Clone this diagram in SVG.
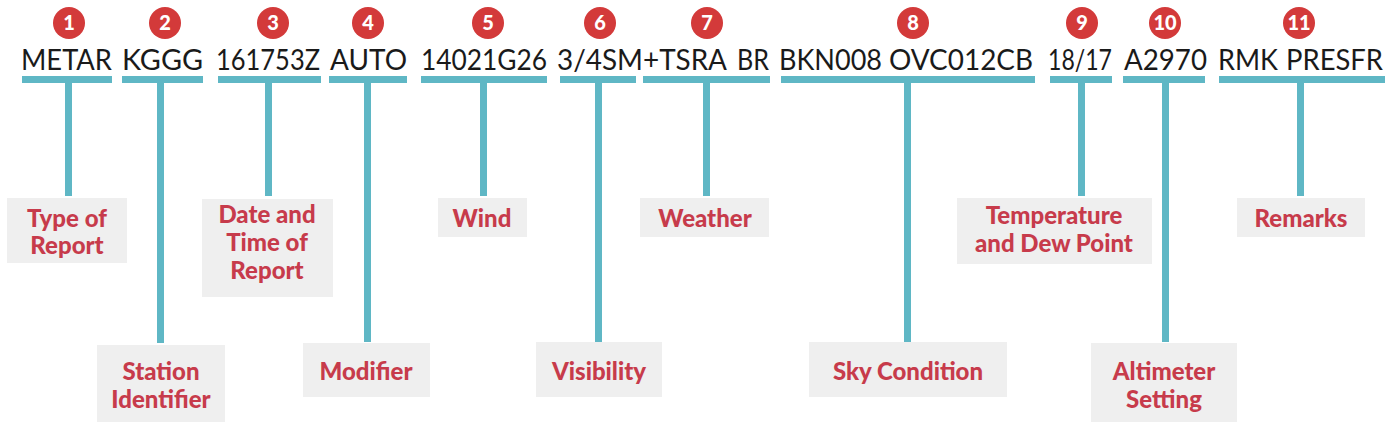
<svg xmlns="http://www.w3.org/2000/svg" width="1392" height="430" viewBox="0 0 1392 430">
<style>
.num{fill:#d33a3a}
.nt{font-family:Lato,"Liberation Sans",sans-serif;font-weight:900;font-size:20px;fill:#fff;text-anchor:middle}
.tok{font-family:Lato,"Liberation Sans",sans-serif;font-weight:400;font-size:28px;fill:#1a1a1a}
.box{fill:#efefef}
.lb{font-family:Lato,"Liberation Sans",sans-serif;font-weight:900;font-size:24px;fill:#c73b4b;text-anchor:middle}
.c{fill:#5fb7c5}
</style>
<rect width="1392" height="430" fill="#fff"/>
<g id="connectors">
<rect class="c" x="22" y="76" width="90" height="7"/><rect class="c" x="65" y="76" width="7" height="120"/>
<rect class="c" x="122" y="76" width="81" height="7"/><rect class="c" x="157" y="76" width="7" height="267"/>
<rect class="c" x="218" y="76" width="103" height="7"/><rect class="c" x="265" y="76" width="7" height="120"/>
<rect class="c" x="329" y="76" width="78" height="7"/><rect class="c" x="364" y="76" width="7" height="266"/>
<rect class="c" x="421" y="76" width="126" height="7"/><rect class="c" x="480" y="76" width="7" height="120"/>
<rect class="c" x="560" y="76" width="76" height="7"/><rect class="c" x="595" y="76" width="7" height="266"/>
<rect class="c" x="643" y="76" width="127" height="7"/><rect class="c" x="703" y="76" width="7" height="120"/>
<rect class="c" x="781" y="76" width="254" height="7"/><rect class="c" x="904" y="76" width="7" height="266"/>
<rect class="c" x="1050" y="76" width="62" height="7"/><rect class="c" x="1078" y="76" width="7" height="120"/>
<rect class="c" x="1123" y="76" width="82" height="7"/><rect class="c" x="1162" y="76" width="7" height="266"/>
<rect class="c" x="1219" y="76" width="166" height="7"/><rect class="c" x="1297" y="76" width="7" height="120"/>
</g>
<g id="field-1"><circle class="num" cx="69" cy="23" r="16"/><text class="nt" x="69" y="30">1</text>
<text class="tok" x="21" y="70" textLength="91" lengthAdjust="spacingAndGlyphs">METAR</text>
<rect class="box" x="7" y="198" width="120" height="65"/><text class="lb" x="67" y="227">Type of</text><text class="lb" x="67" y="254">Report</text></g>
<g id="field-2"><circle class="num" cx="165" cy="23" r="16"/><text class="nt" x="165" y="30">2</text>
<text class="tok" x="122" y="70" textLength="81" lengthAdjust="spacingAndGlyphs">KGGG</text>
<rect class="box" x="97" y="345" width="128" height="77"/><text class="lb" x="161" y="380">Station</text><text class="lb" x="161" y="408">Identifier</text></g>
<g id="field-3"><circle class="num" cx="273" cy="23" r="16"/><text class="nt" x="273" y="30">3</text>
<text class="tok" x="216" y="70" textLength="104" lengthAdjust="spacingAndGlyphs">161753Z</text>
<rect class="box" x="202" y="199" width="131" height="98"/><text class="lb" x="267" y="223">Date and</text><text class="lb" x="267" y="251">Time of</text><text class="lb" x="267" y="279">Report</text></g>
<g id="field-4"><circle class="num" cx="368" cy="23" r="16"/><text class="nt" x="368" y="30">4</text>
<text class="tok" x="330" y="70" textLength="77" lengthAdjust="spacingAndGlyphs">AUTO</text>
<rect class="box" x="303" y="343" width="127" height="54"/><text class="lb" x="366" y="380">Modifier</text></g>
<g id="field-5"><circle class="num" cx="488" cy="23" r="16"/><text class="nt" x="488" y="30">5</text>
<text class="tok" x="421" y="70" textLength="126" lengthAdjust="spacingAndGlyphs">14021G26</text>
<rect class="box" x="438" y="198" width="89" height="39"/><text class="lb" x="482" y="227">Wind</text></g>
<g id="field-6"><circle class="num" cx="600" cy="23" r="16"/><text class="nt" x="600" y="30">6</text>
<text class="tok" x="557" y="70" textLength="170" lengthAdjust="spacingAndGlyphs">3/4SM+TSRA</text>
<rect class="box" x="536" y="342" width="126" height="55"/><text class="lb" x="599" y="380">Visibility</text></g>
<g id="field-7"><circle class="num" cx="707" cy="23" r="16"/><text class="nt" x="707" y="30">7</text>
<text class="tok" x="737" y="70" textLength="32" lengthAdjust="spacingAndGlyphs">BR</text>
<rect class="box" x="640" y="198" width="129" height="39"/><text class="lb" x="705" y="227">Weather</text></g>
<g id="field-8"><circle class="num" cx="913" cy="23" r="16"/><text class="nt" x="913" y="30">8</text>
<text class="tok" x="779" y="70" textLength="103" lengthAdjust="spacingAndGlyphs">BKN008</text>
<text class="tok" x="889" y="70" textLength="144" lengthAdjust="spacingAndGlyphs">OVC012CB</text>
<rect class="box" x="809" y="342" width="198" height="55"/><text class="lb" x="908" y="380">Sky Condition</text></g>
<g id="field-9"><circle class="num" cx="1082" cy="23" r="16"/><text class="nt" x="1082" y="30">9</text>
<text class="tok" x="1048" y="70" textLength="64" lengthAdjust="spacingAndGlyphs">18/17</text>
<rect class="box" x="957" y="198" width="195" height="66"/><text class="lb" x="1054" y="224">Temperature</text><text class="lb" x="1054" y="252">and Dew Point</text></g>
<g id="field-10"><circle class="num" cx="1165" cy="23" r="16"/><text class="nt" x="1165" y="30">10</text>
<text class="tok" x="1124" y="70" textLength="83" lengthAdjust="spacingAndGlyphs">A2970</text>
<rect class="box" x="1091" y="343" width="146" height="79"/><text class="lb" x="1164" y="380">Altimeter</text><text class="lb" x="1164" y="408">Setting</text></g>
<g id="field-11"><circle class="num" cx="1299" cy="23" r="16"/><text class="nt" x="1299" y="30">11</text>
<text class="tok" x="1218" y="70" textLength="60" lengthAdjust="spacingAndGlyphs">RMK</text>
<text class="tok" x="1286" y="70" textLength="97" lengthAdjust="spacingAndGlyphs">PRESFR</text>
<rect class="box" x="1237" y="198" width="128" height="39"/><text class="lb" x="1301" y="227">Remarks</text></g>
</svg>
